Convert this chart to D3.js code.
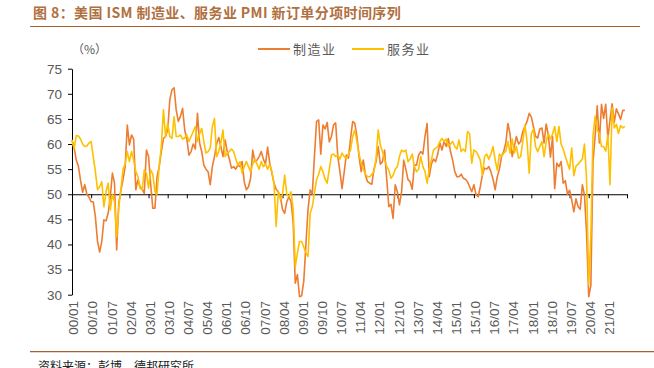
<!DOCTYPE html>
<html><head><meta charset="utf-8">
<script src="https://cdn.jsdelivr.net/npm/d3@7/dist/d3.min.js"></script>
<style>body{margin:0;background:#fff}svg{display:block}</style>
</head><body>
<svg id="chart" width="654" height="368"></svg>
<script>
const title = "图 8：美国 ISM 制造业、服务业 PMI 新订单分项时间序列";
const source = "资料来源：彭博，德邦研究所";
const unitLabel = "（%）";
const seriesNames = ["制造业", "服务业"];
const xTickLabels = ["00/01","00/10","01/07","02/04","03/01","03/10","04/07","05/04","06/01","06/10","07/07","08/04","09/01","09/10","10/07","11/04","12/01","12/10","13/07","14/04","15/01","15/10","16/07","17/04","18/01","18/10","19/07","20/04","21/01"];
const yTicks = [30,35,40,45,50,55,60,65,70,75];
// monthly, 2000/01 .. 2021/09
const manufacturing = [
60.8,59.3,56.8,55.6,52.8,50.4,51.9,50.0,49.4,48.5,48.5,45.5,
40.6,38.5,40.6,44.9,44.7,46.2,49.5,54.2,52.2,38.9,48.2,50.8,
52.9,55.5,63.8,59.8,61.8,61.0,50.9,52.9,51.5,51.0,50.2,58.8,
57.5,52.0,47.2,47.2,53.5,55.5,58.5,61.1,61.5,62.8,68.8,70.8,
71.2,66.8,64.5,65.5,67.1,62.8,61.0,57.8,58.5,60.0,59.0,66.1,
60.2,58.5,55.8,55.0,54.5,51.9,55.5,57.5,60.0,61.3,59.5,57.5,
60.8,58.5,57.0,55.2,55.5,55.0,55.8,55.5,56.5,52.5,50.9,51.5,
53.2,58.8,56.5,56.8,57.5,58.5,57.0,56.0,59.4,56.2,54.2,52.2,
51.0,50.5,49.5,47.0,46.2,48.5,49.5,48.5,44.5,32.3,34.0,29.6,
29.8,32.7,40.0,47.0,50.9,50.0,57.5,64.5,64.8,58.0,63.8,63.0,
64.3,60.4,61.5,63.8,64.2,57.5,54.5,51.1,54.4,57.8,57.2,61.1,
64.5,64.1,61.5,57.5,54.5,56.8,53.8,52.5,52.2,52.0,55.0,56.5,
59.5,56.0,56.5,58.8,53.0,47.5,48.0,45.2,51.9,50.5,47.9,50.5,
56.8,55.0,52.9,52.5,51.0,55.8,55.8,57.8,58.5,58.0,61.5,64.1,
53.5,56.0,57.0,56.5,58.0,60.2,58.8,60.5,59.5,61.1,58.5,56.8,
54.5,53.5,53.5,54.0,53.2,53.0,52.5,51.5,50.5,51.9,49.9,49.5,
51.5,53.8,55.2,55.0,55.5,54.5,53.0,50.9,53.5,55.0,57.5,58.5,
60.2,64.1,62.0,57.5,59.5,61.5,60.0,60.5,62.5,63.5,64.5,66.1,
65.4,63.5,61.5,61.2,63.0,63.2,60.2,64.0,61.8,57.4,61.5,51.1,
56.2,55.5,56.5,52.2,52.7,50.0,50.8,48.9,46.5,49.1,47.5,47.0,
51.9,49.8,42.2,29.6,31.8,56.4,61.5,67.6,60.2,67.9,65.1,67.9,
61.1,64.8,68.0,64.3,67.0,66.0,64.9,66.7,66.7
];
const services = [
60.8,59.0,61.7,61.6,61.0,60.0,59.5,59.6,60.2,60.5,57.5,54.5,
50.9,51.5,52.5,47.5,50.5,52.2,46.9,50.0,48.5,41.5,47.5,51.0,
55.0,56.0,58.5,56.5,58.5,56.8,54.5,53.5,51.2,50.9,54.8,54.2,
51.2,54.8,54.0,50.5,50.0,55.5,59.5,66.8,61.5,64.1,61.5,61.1,
65.4,61.5,61.5,61.8,61.0,61.2,61.8,60.5,61.5,62.5,63.5,60.5,
62.0,63.1,60.5,58.2,58.5,59.2,63.5,65.1,57.5,58.5,60.2,62.8,
57.5,58.2,58.5,59.0,58.5,57.0,55.8,56.5,54.2,55.5,56.5,55.5,
54.5,56.0,57.0,56.0,55.0,56.5,55.5,56.0,55.0,56.0,54.5,52.0,
43.6,50.5,49.0,50.0,53.8,50.0,49.5,50.5,47.0,35.6,38.3,40.6,
40.6,39.5,38.3,37.6,46.2,47.5,50.2,52.9,54.0,55.5,54.5,53.0,
52.2,55.0,57.8,58.0,57.5,57.8,57.0,58.2,57.5,57.0,58.0,58.8,
61.5,62.8,60.5,58.0,56.2,55.0,54.0,53.5,53.5,54.0,54.5,57.2,
62.8,59.8,58.5,57.0,55.5,54.8,53.2,53.8,55.0,55.5,57.5,58.8,
58.5,58.8,56.5,57.0,58.0,55.5,54.5,55.0,57.5,55.5,54.5,52.2,
55.0,56.8,58.8,59.2,59.5,60.5,61.1,60.5,61.0,59.5,60.0,60.5,
59.5,59.0,60.8,58.5,59.0,58.5,62.5,62.0,56.2,58.8,58.5,57.8,
56.8,53.8,57.5,58.0,57.0,58.0,59.5,56.8,54.8,58.0,57.5,58.2,
58.6,60.5,58.2,61.0,58.2,59.5,57.2,57.5,60.5,63.8,60.5,54.2,
62.0,63.0,59.5,58.5,59.5,60.5,57.5,60.5,62.1,61.0,62.0,63.5,
60.5,63.5,60.0,59.0,57.5,56.2,55.0,59.2,53.7,55.6,56.0,56.5,
57.0,60.0,52.9,32.0,41.9,61.6,65.5,62.8,62.0,59.5,59.5,58.6,
61.8,51.9,67.2,63.2,63.9,62.1,63.7,63.2,63.5
];

const colors = ["#ED7D31", "#FFC000"];
const svg = d3.select("#chart");
const x = d3.scaleLinear().domain([0, 261]).range([72, 627]);
const y = d3.scaleLinear().domain([30, 75]).range([294.7, 68.7]);
const tickStep = 9;
const gray = "#595959";
const brown = "#B0703F";

// title + rules
svg.append("text").attr("x", 33).attr("y", 18).text(title)
  .attr("font-family", "'Noto Sans CJK SC', sans-serif").attr("font-weight", "bold")
  .attr("font-size", 14).attr("letter-spacing", 0.4).attr("fill", brown);
svg.append("line").attr("x1", 30).attr("x2", 640).attr("y1", 26.5).attr("y2", 26.5)
  .attr("stroke", "#A8602E").attr("stroke-width", 1.2);
svg.append("line").attr("x1", 30).attr("x2", 654).attr("y1", 351.7).attr("y2", 351.7)
  .attr("stroke", "#A8602E").attr("stroke-width", 1.2);
svg.append("text").attr("x", 38).attr("y", 371).text(source)
  .attr("font-family", "'Noto Sans CJK SC', sans-serif").attr("font-size", 12).attr("fill", "#222");

// unit
svg.append("text").attr("x", 72).attr("y", 54).text(unitLabel)
  .attr("font-family", "'Noto Sans CJK SC', sans-serif").attr("font-size", 12).attr("fill", gray);

// y axis
const yAxis = svg.append("g").attr("transform", "translate(72,0)")
  .call(d3.axisLeft(y).tickValues(yTicks).tickSize(4).tickPadding(6).tickSizeOuter(0));
yAxis.selectAll("text").attr("font-family", "'Liberation Sans', Arial, sans-serif")
  .attr("font-size", 13.5).attr("fill", gray);
yAxis.selectAll("path,line").attr("stroke", "#000");

// x axis at 50
const xAxis = svg.append("g").attr("transform", `translate(0,${y(50)})`)
  .call(d3.axisBottom(x).tickValues(d3.range(0, 262, tickStep)).tickSize(4).tickSizeOuter(0).tickFormat(""));
xAxis.selectAll("path,line").attr("stroke", "#000");

// x labels at bottom, rotated
svg.append("g").selectAll("text").data(xTickLabels).join("text")
  .attr("transform", (d, k) => `translate(${x(k * tickStep) + 1.5},301) rotate(-90)`)
  .attr("dy", "0.35em").attr("text-anchor", "end")
  .attr("font-family", "'Liberation Sans', Arial, sans-serif").attr("font-size", 13.5)
  .attr("fill", gray).text(d => d);

// lines
const line = d3.line().x((d, i) => x(i)).y(d => y(d));
[manufacturing, services].forEach((s, k) => {
  svg.append("path").datum(s).attr("d", line).attr("fill", "none")
    .attr("stroke", colors[k]).attr("stroke-width", 1.6).attr("stroke-linejoin", "round");
});

// legend
const legendX = [258, 352];
seriesNames.forEach((n, k) => {
  svg.append("line").attr("x1", legendX[k]).attr("x2", legendX[k] + 32).attr("y1", 49).attr("y2", 49)
    .attr("stroke", colors[k]).attr("stroke-width", 2);
  svg.append("text").attr("x", legendX[k] + 35).attr("y", 54).text(n)
    .attr("font-family", "'Noto Sans CJK SC', sans-serif").attr("font-size", 13)
    .attr("letter-spacing", 1.5).attr("fill", gray);
});
</script>
</body></html>
